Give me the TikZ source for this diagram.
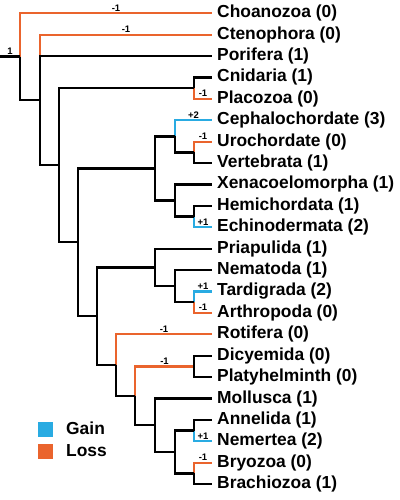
\documentclass[tikz,border=0pt]{standalone}
\usepackage{fontspec}
\setmainfont{Liberation Sans}
\usetikzlibrary{calc}
\definecolor{gaincol}{RGB}{41,171,226}
\definecolor{losscol}{RGB}{234,100,45}
\tikzset{
    branch/.style={line width=2.3pt, black},
    gainbr/.style={line width=2.3pt, gaincol},
    lossbr/.style={line width=2.3pt, losscol},
    taxon/.style={anchor=west, inner sep=0pt, font=\fontsize{17.4}{17.4}\selectfont\bfseries},
    chg/.style={above, inner sep=1pt, text=black, font=\fontsize{9.5}{9.5}\selectfont\bfseries},
    legbox/.style={minimum size=15pt, inner sep=0pt},
}

\begin{document}
\begin{tikzpicture}[x=1pt, y=-1pt]
    \useasboundingbox (0,0) rectangle (399,500);

    % tips and taxon names
    \def\tipx{212}
    \foreach \name/\txt [count=\k from 0] in {choano/Choanozoa (0), cteno/Ctenophora (0),
        porif/Porifera (1), cnid/Cnidaria (1), placo/Placozoa (0), cephal/Cephalochordate (3),
        uro/Urochordate (0), vert/Vertebrata (1), xeno/Xenacoelomorpha (1), hemi/Hemichordata (1),
        echino/Echinodermata (2), priap/Priapulida (1), nemat/Nematoda (1), tardi/Tardigrada (2),
        arthro/Arthropoda (0), rotif/Rotifera (0), dicy/Dicyemida (0), platy/Platyhelminth (0),
        mollu/Mollusca (1), annel/Annelida (1), nemer/Nemertea (2), bryo/Bryozoa (0),
        brach/Brachiozoa (1)} {
        \coordinate (\name) at (\tipx, 13.3+21.4*\k);
        \node[taxon] (\name-lab) at (\tipx+5, 13.3+21.4*\k) {\txt};
    }

    % inner nodes
    \coordinate (base) at (0,56.6);
    \coordinate (root) at (20,56.6);
    \coordinate (meta) at (40,100);
    \coordinate (eum) at (59,165.3);
    \coordinate (cnpl) at (194,88.2);
    \coordinate (bilat) at (78,242.3);
    \coordinate (deut) at (155,168.5);
    \coordinate (chord) at (175,136.4);
    \coordinate (olf) at (194,152.4);
    \coordinate (xamb) at (175,200.6);
    \coordinate (amb) at (194,216.6);
    \coordinate (proto) at (97,316.2);
    \coordinate (ecd) at (155,267.4);
    \coordinate (nemp) at (175,286.2);
    \coordinate (panart) at (194,302.2);
    \coordinate (spir) at (116,365.1);
    \coordinate (loph) at (135,395.8);
    \coordinate (pnode) at (194,366.4);
    \coordinate (troch) at (155,425.3);
    \coordinate (rnode) at (175,452);
    \coordinate (snode) at (194,430.6);
    \coordinate (tnode) at (194,473.4);

    % coloured branches first
    \foreach \p/\c/\d in {root/choano/-1, meta/cteno/-1, cnpl/placo/-1, olf/uro/-1,
        panart/arthro/-1, spir/rotif/-1, loph/pnode/-1, tnode/bryo/-1}
        \draw[lossbr] (\p) |- node[pos=0.75, chg] {\d} (\c);
    \foreach \p/\c/\d in {chord/cephal/+2, amb/echino/+1, panart/tardi/+1, snode/nemer/+1}
        \draw[gainbr] (\p) |- node[pos=0.75, chg] {\d} (\c);

    % black branches
    \draw[branch] (base) -- node[chg] {1} (root);
    \foreach \p/\c in {root/meta, meta/porif, meta/eum, eum/cnpl, eum/bilat, cnpl/cnid,
        bilat/deut, bilat/proto, deut/chord, deut/xamb, chord/olf, olf/vert,
        xamb/xeno, xamb/amb, amb/hemi, proto/ecd, proto/spir, ecd/priap, ecd/nemp,
        nemp/nemat, nemp/panart, spir/loph, loph/troch, pnode/dicy, pnode/platy,
        troch/mollu, troch/rnode, rnode/snode, rnode/tnode, snode/annel, tnode/brach}
        \draw[branch] (\p) |- (\c);

    % legend
    \node[legbox, fill=gaincol] (gainbox) at (45.8,429.6) {};
    \node[legbox, fill=losscol] (lossbox) at (45.8,451.8) {};
    \node[taxon] (gaintxt) at (66,428.5) {Gain};
    \node[taxon] (losstxt) at (66,451) {Loss};
\end{tikzpicture}
\end{document}
